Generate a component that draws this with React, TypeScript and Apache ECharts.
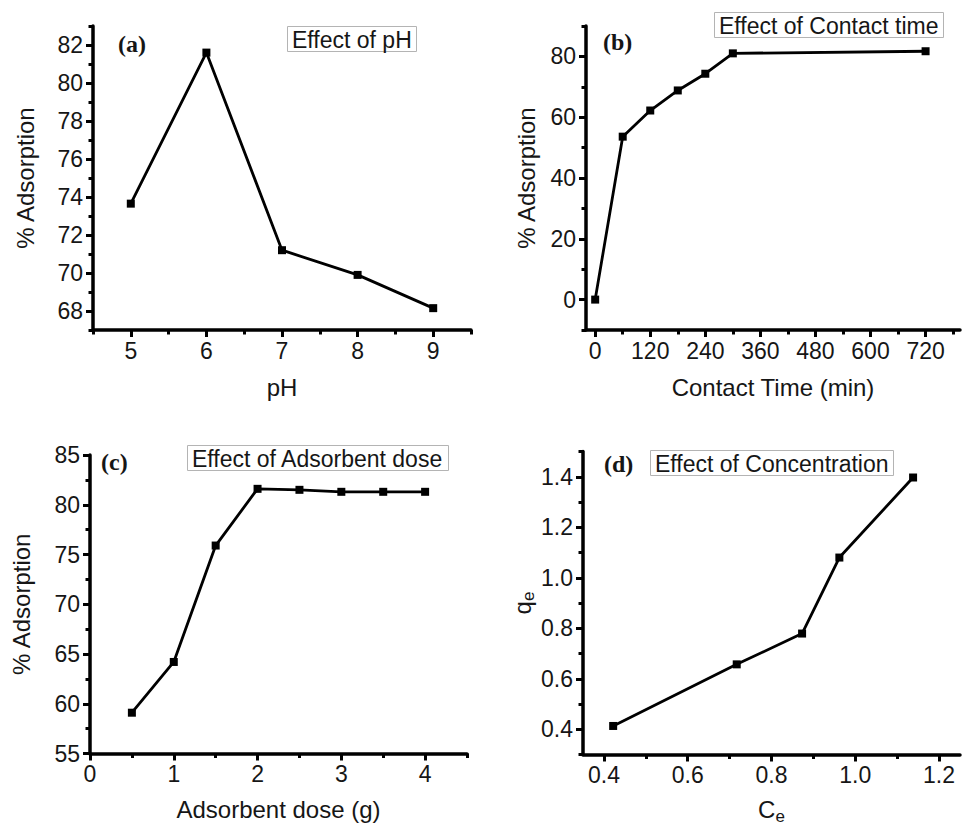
import React, { useEffect, useRef } from 'react';
import * as echarts from 'echarts';

// ---- Data ----
const phX = [5, 6, 7, 8, 9];
const phY = [73.65, 81.6, 71.2, 69.9, 68.15];

const timeX = [0, 60, 120, 180, 240, 300, 720];
const timeY = [0, 53.6, 62.2, 68.8, 74.3, 81.0, 81.7];

const doseX = [0.5, 1, 1.5, 2, 2.5, 3, 3.5, 4];
const doseY = [59.1, 64.2, 75.9, 81.6, 81.5, 81.3, 81.3, 81.3];

const ceX = [0.422, 0.717, 0.873, 0.962, 1.138];
const qeY = [0.413, 0.657, 0.779, 1.08, 1.397];

// ---- Tick values ----
const aXMajor = [5, 6, 7, 8, 9];
const aXMinor = [4.5, 5.5, 6.5, 7.5, 8.5, 9.5];
const aYMajor = [68, 70, 72, 74, 76, 78, 80, 82];
const aYMinor = [67, 69, 71, 73, 75, 77, 79, 81, 83];

const bXMajor = [0, 120, 240, 360, 480, 600, 720];
const bXMinor = [60, 180, 300, 420, 540, 660, 780];
const bYMajor = [0, 20, 40, 60, 80];
const bYMinor = [-10, 10, 30, 50, 70, 90];

const cXMajor = [0, 1, 2, 3, 4];
const cXMinor = [0.5, 1.5, 2.5, 3.5, 4.5];
const cYMajor = [55, 60, 65, 70, 75, 80, 85];
const cYMinor = [57.5, 62.5, 67.5, 72.5, 77.5, 82.5];

const dXMajor = [0.4, 0.6, 0.8, 1.0, 1.2];
const dXMinor = [0.5, 0.7, 0.9, 1.1];
const dYMajor = [0.4, 0.6, 0.8, 1.0, 1.2, 1.4];
const dYMinor = [0.3, 0.5, 0.7, 0.9, 1.1, 1.3, 1.5];

const FONT = '"Liberation Sans", Arial, Helvetica, sans-serif';
const SERIF = '"Liberation Serif", "Times New Roman", serif';
const INK = '#161616';

type PanelCfg = {
  grid: { left: number; top: number; width: number; height: number };
  xRange: [number, number];
  yRange: [number, number];
  xMajor: number[];
  xMinor: number[];
  yMajor: number[];
  yMinor: number[];
  xName: string;
  yName: string;
  xGap: number;
  yGap: number;
  fmt?: (v: number) => string;
  xs: number[];
  ys: number[];
};

const panels: PanelCfg[] = [
  {
    grid: { left: 93, top: 26, width: 378, height: 304 },
    xRange: [4.5, 9.5], yRange: [67, 83],
    xMajor: aXMajor, xMinor: aXMinor, yMajor: aYMajor, yMinor: aYMinor,
    xName: 'pH', yName: '% Adsorption', xGap: 45, yGap: 56,
    xs: phX, ys: phY,
  },
  {
    grid: { left: 586, top: 26, width: 374, height: 304 },
    xRange: [-20, 795], yRange: [-10, 90],
    xMajor: bXMajor, xMinor: bXMinor, yMajor: bYMajor, yMinor: bYMinor,
    xName: 'Contact Time (min)', yName: '% Adsorption', xGap: 45, yGap: 48,
    xs: timeX, ys: timeY,
  },
  {
    grid: { left: 90, top: 455, width: 377, height: 298.5 },
    xRange: [0, 4.5], yRange: [55, 85],
    xMajor: cXMajor, xMinor: cXMinor, yMajor: cYMajor, yMinor: cYMinor,
    xName: 'Adsorbent dose (g)', yName: '% Adsorption', xGap: 44, yGap: 57,
    xs: doseX, ys: doseY,
  },
  {
    grid: { left: 583, top: 451.5, width: 377, height: 303 },
    xRange: [0.35, 1.25], yRange: [0.3, 1.5],
    xMajor: dXMajor, xMinor: dXMinor, yMajor: dYMajor, yMinor: dYMinor,
    xName: '{n|C}{s|e}', yName: '{n|q}{s|e}', xGap: 42, yGap: 44,
    fmt: (v: number) => v.toFixed(1),
    xs: ceX, ys: qeY,
  },
];

const nameRich = {
  n: { fontSize: 24, fontFamily: FONT, color: INK, lineHeight: 26 },
  s: { fontSize: 17, fontFamily: FONT, color: INK, lineHeight: 17, padding: [13, 0, 0, 0] },
};

const AXIS_LINE = { color: '#000', width: 3.5 };
const TICK_LINE = { color: '#000', width: 3 };

function buildOption() {
  const grids: any[] = [];
  const xAxes: any[] = [];
  const yAxes: any[] = [];
  const series: any[] = [];
  panels.forEach((p, i) => {
    grids.push({ ...p.grid, containLabel: false, show: false });
    const labelStyle: any = {
      fontSize: 23,
      fontFamily: FONT,
      color: INK,
    };
    if (p.fmt) labelStyle.formatter = (v: number) => p.fmt!(v);
    const nameStyle = { fontSize: 24, fontFamily: FONT, color: INK, rich: nameRich };
    xAxes.push({
      type: 'value', gridIndex: i, position: 'bottom',
      min: p.xRange[0], max: p.xRange[1],
      axisLine: { show: true, onZero: false, lineStyle: AXIS_LINE },
      axisTick: { show: true, customValues: p.xMajor, length: 7, lineStyle: TICK_LINE },
      axisLabel: { show: true, customValues: p.xMajor, margin: 9, ...labelStyle },
      splitLine: { show: false },
      name: p.xName, nameLocation: 'middle', nameGap: p.xGap, nameTextStyle: nameStyle,
    });
    xAxes.push({
      type: 'value', gridIndex: i, position: 'bottom',
      min: p.xRange[0], max: p.xRange[1],
      axisLine: { show: false, onZero: false },
      axisTick: { show: true, customValues: p.xMinor, length: 4.5, lineStyle: TICK_LINE },
      axisLabel: { show: false },
      splitLine: { show: false },
    });
    yAxes.push({
      type: 'value', gridIndex: i, position: 'left',
      min: p.yRange[0], max: p.yRange[1],
      axisLine: { show: true, onZero: false, lineStyle: AXIS_LINE },
      axisTick: { show: true, customValues: p.yMajor, length: 7, lineStyle: TICK_LINE },
      axisLabel: { show: true, customValues: p.yMajor, margin: 10, ...labelStyle },
      splitLine: { show: false },
      name: p.yName, nameLocation: 'middle', nameGap: p.yGap, nameTextStyle: nameStyle,
    });
    yAxes.push({
      type: 'value', gridIndex: i, position: 'left',
      min: p.yRange[0], max: p.yRange[1],
      axisLine: { show: false, onZero: false },
      axisTick: { show: true, customValues: p.yMinor, length: 4.5, lineStyle: TICK_LINE },
      axisLabel: { show: false },
      splitLine: { show: false },
    });
    series.push({
      type: 'line',
      xAxisIndex: i * 2,
      yAxisIndex: i * 2,
      data: p.xs.map((x, k) => [x, p.ys[k]]),
      symbol: 'rect',
      symbolSize: 8,
      showSymbol: true,
      lineStyle: { color: '#000', width: 2.8 },
      itemStyle: { color: '#000' },
    });
  });

  const boxStyle = (text: string, left: number, top: number) => ({
    text, left, top,
    padding: [2, 5, 1, 5],
    borderColor: '#b4b4b4', borderWidth: 1,
    textStyle: { fontSize: 23, fontWeight: 'normal', fontFamily: FONT, color: INK },
  });
  const tag = (text: string, left: number, top: number) => ({
    text, left, top, padding: 0,
    textStyle: { fontSize: 24, fontWeight: 'bold', fontFamily: SERIF, color: INK },
  });

  return {
    animation: false,
    backgroundColor: '#ffffff',
    title: [
      boxStyle('Effect of pH', 287, 26),
      boxStyle('Effect of Contact time', 714, 12),
      boxStyle('Effect of Adsorbent dose', 187, 445),
      boxStyle('Effect of Concentration', 650, 450),
      tag('(a)', 118, 32),
      tag('(b)', 603, 30),
      tag('(c)', 101, 450),
      tag('(d)', 604, 452),
    ],
    grid: grids,
    xAxis: xAxes,
    yAxis: yAxes,
    series,
  };
}

export default function App() {
  const ref = useRef<HTMLDivElement>(null);
  useEffect(() => {
    if (!ref.current) return;
    const chart = echarts.init(ref.current, undefined, { renderer: 'svg' });
    chart.setOption(buildOption() as any);
    return () => chart.dispose();
  }, []);
  return (
    <div
      ref={ref}
      style={{ position: 'absolute', left: 0, top: 0, width: 966, height: 826, background: '#fff' }}
    />
  );
}
